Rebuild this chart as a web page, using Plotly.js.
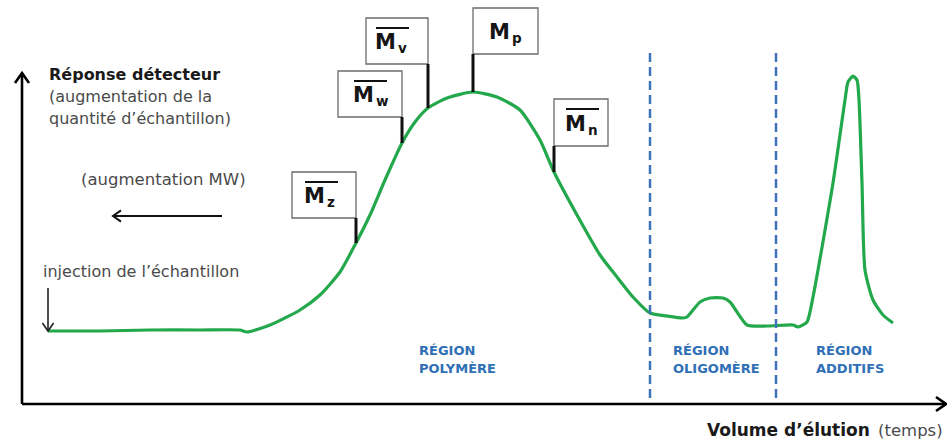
<!DOCTYPE html>
<html>
<head>
<meta charset="utf-8">
<script src="https://cdn.plot.ly/plotly-3.0.1.min.js"></script>
<style>html,body{margin:0;padding:0;background:#fff;}#chart{width:947px;height:441px;}</style>
</head>
<body>
<div id="chart"></div>
<script>
// ---- data (elution volume vs detector response, arbitrary units) ----
const elution  = [26, 78, 128, 178, 218, 225, 248, 278, 298, 318, 334, 348, 363, 380, 393, 406, 425, 451, 475, 498, 518, 532, 555, 578, 595, 611, 628, 645, 661, 665, 678, 688, 701, 708, 725, 745, 771, 776, 785, 791, 811, 823, 826, 831, 835, 837, 840, 843, 851, 861, 871];
const response = [73, 73, 74, 74, 74, 72, 79, 94, 109, 132, 161, 189, 224, 261, 282, 296, 306, 312, 307, 294, 264, 232, 189, 149, 127, 107, 91, 88, 86, 87, 102, 106, 106, 102, 79, 78, 79, 77, 82, 107, 221, 304, 322, 328, 324, 304, 221, 134, 104, 89, 81];

const avgSymbol   = 'M';
const avgSubs     = ['z', 'w', 'v', 'p', 'n'];
const avgElution  = [334, 380, 406, 451, 532];
const avgOverline = [true, true, true, false, true];

const regionLine1 = ['RÉGION', 'RÉGION', 'RÉGION'];
const regionLine2 = ['POLYMÈRE', 'OLIGOMÈRE', 'ADDITIFS'];
const regionBounds = [628, 754];

// ---- layout helpers (positions / styles) ----
const boxLayout = [
  {w: 64, top: 232, bottom: 186, side: 'left',  dx: -3},
  {w: 64, top: 333, bottom: 287, side: 'left',  dx: 0},
  {w: 62, top: 386, bottom: 340, side: 'left',  dx: -5},
  {w: 65, top: 396, bottom: 350, side: 'right', dx: 0},
  {w: 54, top: 305, bottom: 258, side: 'right', dx: 1}
];
const regionPos = [{x: 396, y: 54}, {x: 650, y: 54}, {x: 793, y: 54}];

function interp(x) {
  for (let i = 0; i < elution.length - 1; i++) {
    if (x >= elution[i] && x <= elution[i + 1]) {
      const t = (x - elution[i]) / (elution[i + 1] - elution[i]);
      return response[i] + t * (response[i + 1] - response[i]);
    }
  }
  return response[response.length - 1];
}

const green = '#23a84c';
const blue = '#3d73b8';
const FONT = 'DejaVu Sans, Arial, sans-serif';

const traces = [{
  x: elution, y: response, type: 'scatter', mode: 'lines',
  line: {color: green, width: 3.2, shape: 'spline', smoothing: 0.6},
  hoverinfo: 'skip', showlegend: false
}];

const shapes = [];
const annotations = [];

function txt(x, y, text, size, color, xanchor, weight) {
  annotations.push({x: x, y: y, xref: 'x', yref: 'y', xanchor: xanchor || 'left', yanchor: 'middle',
    showarrow: false, text: text, borderpad: 0,
    font: {family: FONT, size: size, color: color, weight: weight || 'normal'}});
}

// arrows drawn as line + chevron
function arrow(x0, y0, x1, y1, w, color, head) {
  shapes.push({type: 'line', xref: 'x', yref: 'y', x0: x0, y0: y0, x1: x1, y1: y1,
    line: {color: color, width: w}});
  const dx = x1 - x0, dy = y1 - y0, len = Math.hypot(dx, dy);
  const ux = dx / len, uy = dy / len, px = -uy, py = ux;
  const bx = x1 - ux * head, by = y1 - uy * head, hw = head * 0.7;
  shapes.push({type: 'path', xref: 'x', yref: 'y',
    path: `M ${bx + px * hw},${by + py * hw} L ${x1},${y1} L ${bx - px * hw},${by - py * hw}`,
    line: {color: color, width: w}});
}

// dashed region boundaries
regionBounds.forEach(b => {
  shapes.push({type: 'line', xref: 'x', yref: 'y', x0: b, x1: b, y0: 6, y1: 352,
    line: {color: blue, width: 2.5, dash: '9px,5px'}});
});

// region labels
regionLine1.forEach((t, i) => {
  txt(regionPos[i].x, regionPos[i].y, t, 13, '#2f6fb6', 'left', 'bold');
  txt(regionPos[i].x, regionPos[i].y - 18, regionLine2[i], 13, '#2f6fb6', 'left', 'bold');
});

// average molar mass flags
avgSubs.forEach((sub, i) => {
  const L = boxLayout[i];
  const tx = avgElution[i];
  const x0 = L.side === 'left' ? tx - L.w : tx;
  const x1 = L.side === 'left' ? tx : tx + L.w;
  shapes.push({type: 'rect', xref: 'x', yref: 'y', x0: x0, x1: x1, y0: L.bottom, y1: L.top,
    line: {color: '#6b6b6b', width: 1.3}, fillcolor: 'white'});
  shapes.push({type: 'line', xref: 'x', yref: 'y', x0: tx, x1: tx, y0: L.bottom, y1: interp(tx),
    line: {color: '#111', width: 3}});
  const cx = (x0 + x1) / 2 + L.dx;
  const cy = (L.top + L.bottom) / 2;
  txt(cx + 5, cy - 1, avgSymbol, 21, '#151515', 'right', 'bold');
  txt(cx + 5, cy - 7, sub, 13.5, '#151515', 'left', 'bold');
  if (avgOverline[i]) {
    shapes.push({type: 'line', xref: 'x', yref: 'y', x0: cx - 16, x1: cx + 17, y0: L.top - 10, y1: L.top - 10,
      line: {color: '#111', width: 2.2}});
  }
});

// axes
arrow(0, 0, 0, 331, 2.6, '#000', 10);
arrow(0, 0, 924, 0, 2.6, '#000', 10);
// MW arrow (leftward)
arrow(200, 188, 91, 188, 2, '#111', 8);
// injection arrow
arrow(26, 116, 26, 73, 1.6, '#222', 8);

// texts
txt(26, 330, 'Réponse détecteur', 16, '#1a1a1a', 'left', 'bold');
txt(26, 308, '(augmentation de la', 16, '#4a4a4a');
txt(26, 286, 'quantité d’échantillon)', 16, '#4a4a4a');
txt(58, 225, '(augmentation MW)', 16.5, '#4a4a4a');
txt(20, 133, 'injection de l’échantillon', 16, '#4a4a4a');
txt(684, -26, 'Volume d’élution', 17, '#1a1a1a', 'left', 'bold');
txt(855, -26, '(temps)', 16.5, '#4a4a4a', 'left');

const layout = {
  width: 947, height: 441,
  margin: {l: 0, r: 0, t: 0, b: 0},
  paper_bgcolor: 'white', plot_bgcolor: 'white',
  xaxis: {range: [-22, 925], visible: false, fixedrange: true},
  yaxis: {range: [-37, 404], visible: false, fixedrange: true},
  shapes: shapes,
  annotations: annotations,
  showlegend: false
};

Plotly.newPlot('chart', traces, layout, {displayModeBar: false, staticPlot: true});
</script>
</body>
</html>
